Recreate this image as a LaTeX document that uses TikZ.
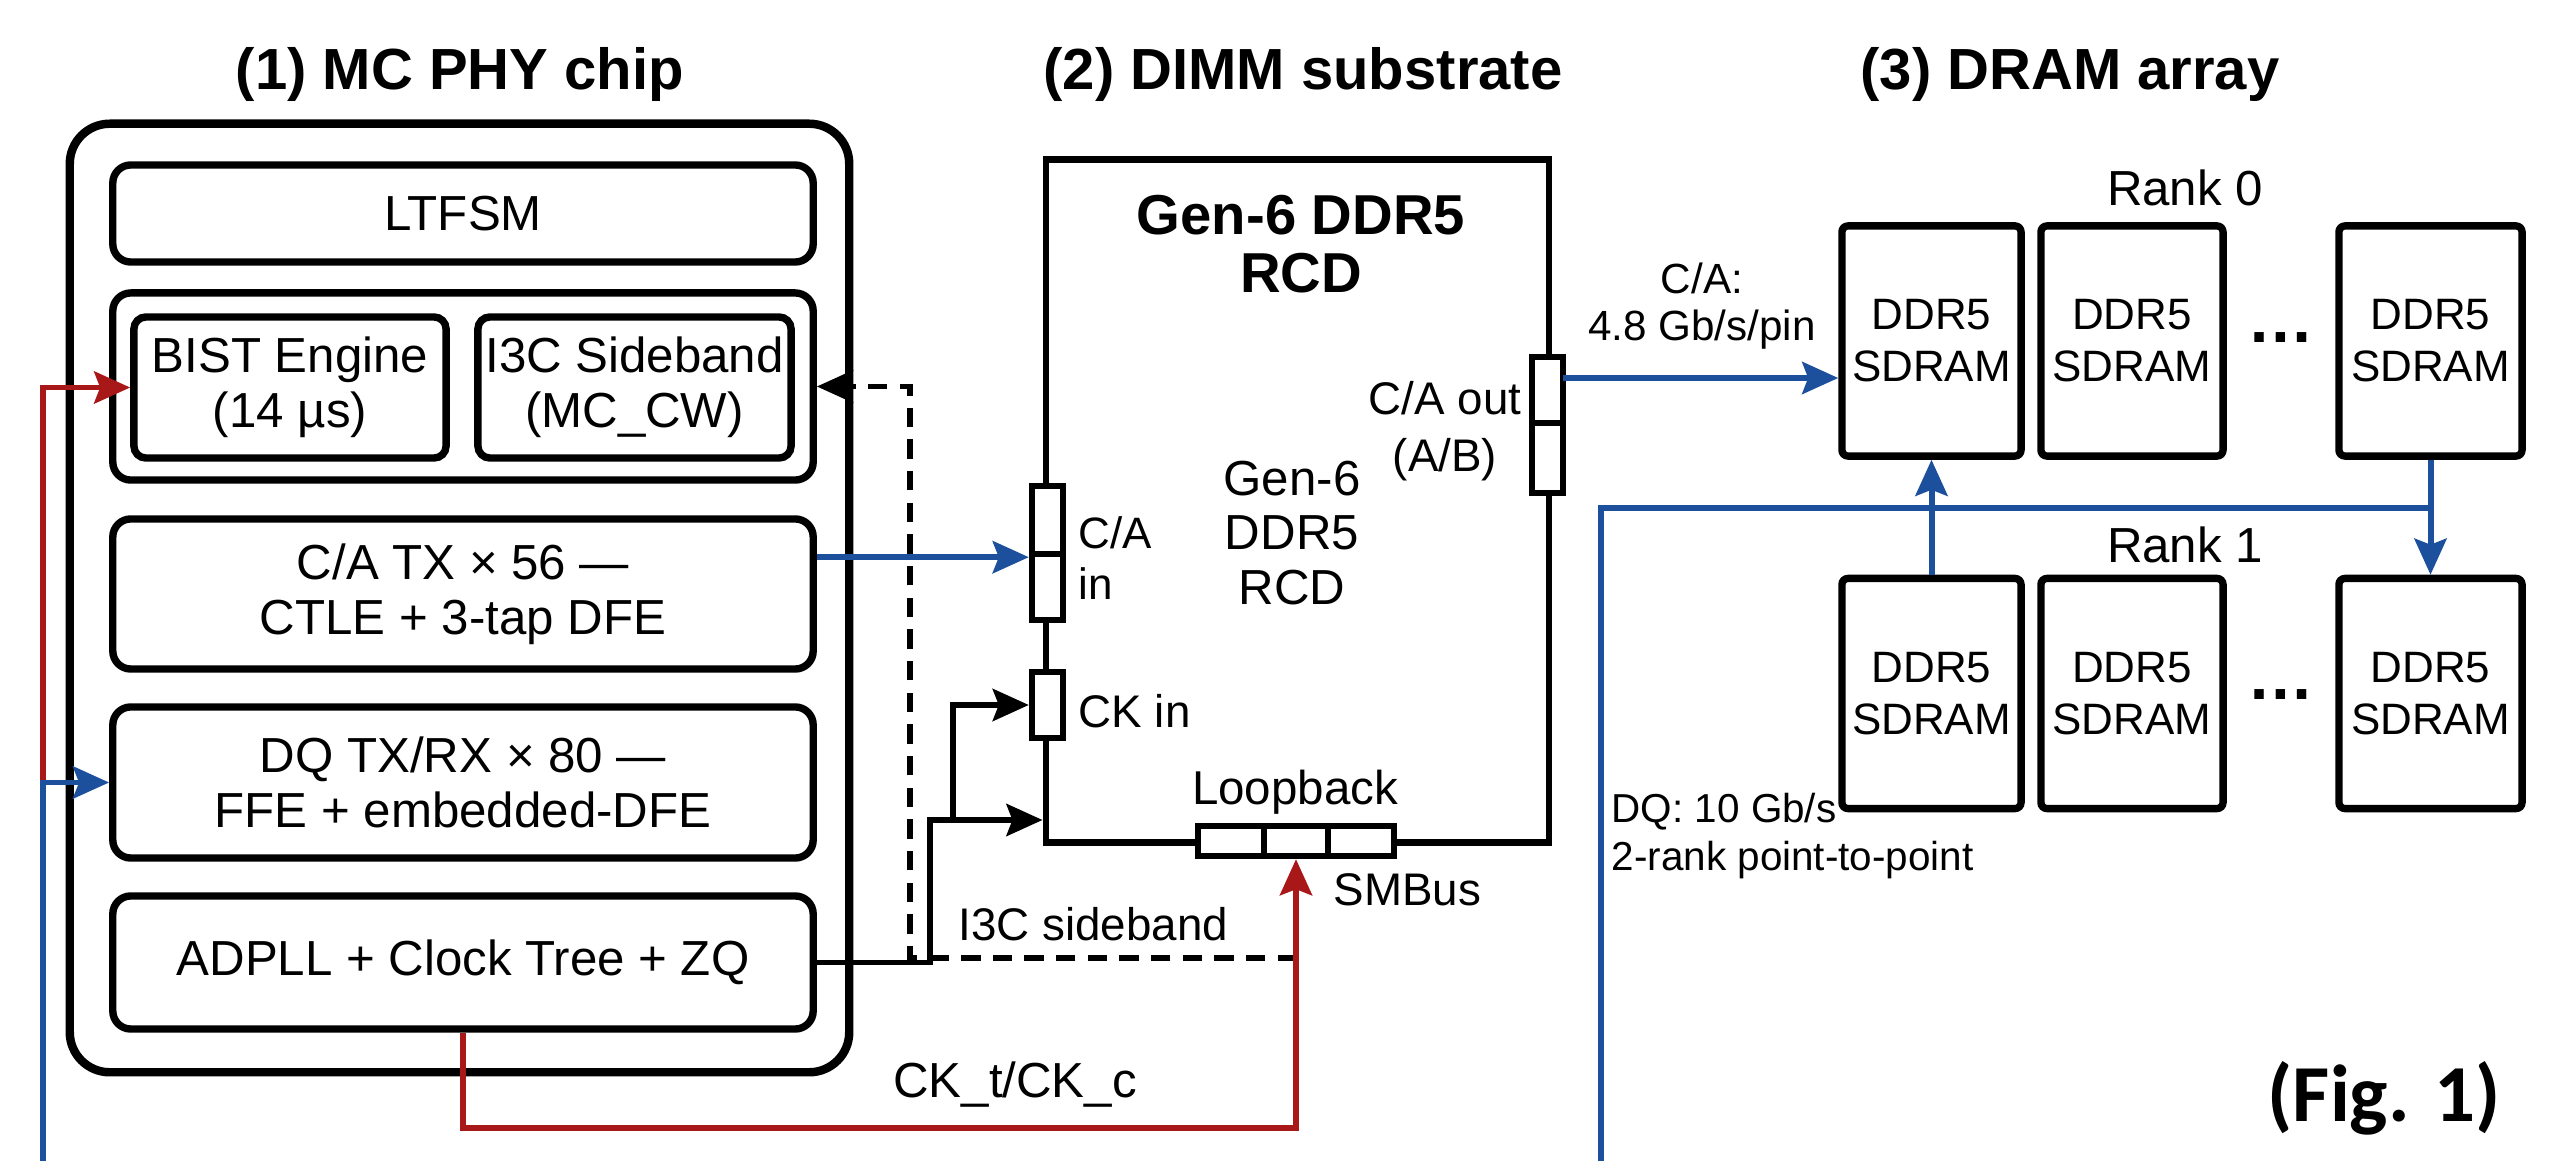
\documentclass[tikz,border=0pt]{standalone}
\usepackage{fontspec}
\setmainfont{Liberation Sans}
\newfontfamily\figfont{Carlito}
\usetikzlibrary{arrows.meta,calc}
\definecolor{lnblue}{HTML}{1C4F9C}
\definecolor{lnred}{HTML}{A81818}
\begin{document}
\begin{tikzpicture}[x=0.01cm,y=-0.01cm,
  bodyf/.style={font=\fontsize{14}{15.6}\selectfont},
  box/.style={draw, line width=2.1pt, rounded corners=0.18cm, inner sep=0pt, align=center, fill=white, bodyf},
  chip/.style={draw, line width=2.4pt, rounded corners=0.4cm, inner sep=0pt},
  rcdbox/.style={draw, line width=1.9pt, inner sep=0pt},
  port/.style={draw, line width=1.8pt, fill=white, inner sep=0pt},
  dram/.style={draw, line width=2.1pt, rounded corners=0.06cm, inner sep=0pt, align=center, minimum width=1.8cm, minimum height=2.3cm, font=\fontsize{12.5}{14.8}\selectfont},
  ttl/.style={font=\fontsize{16.5}{19}\selectfont\bfseries},
  lbl/.style={inner sep=0pt, align=center},
  tip/.style={-{Stealth[length=0.36cm,width=0.32cm,inset=0.06cm]}},
  redln/.style={draw=lnred, line width=1.7pt},
  blueln/.style={draw=lnblue, line width=1.7pt},
  blkln/.style={draw=black, line width=1.7pt},
  dashln/.style={draw=black, line width=1.7pt, dash pattern=on 5.5pt off 3.5pt},
]
\useasboundingbox (0,0) rectangle (2556,1161);

% titles
\node[ttl] (t1) at (460,75) {(1) MC PHY chip};
\node[ttl] (t2) at (1303,75) {(2) DIMM substrate};
\node[ttl] (t3) at (2070,75) {(3) DRAM array};

% MC PHY chip
\node[chip, minimum width=7.79cm, minimum height=9.48cm] (outer) at (459.5,598) {};
\node[box, minimum width=7cm, minimum height=0.97cm] (ltfsm) at (463,213.5) {LTFSM};
\node[box, minimum width=7cm, minimum height=1.87cm] (grp) at (463,386.5) {};
\node[box, rounded corners=0.12cm, minimum width=3.12cm, minimum height=1.41cm] (bist) at (290,387.5) {BIST Engine\\(14 µs)};
\node[box, rounded corners=0.12cm, minimum width=3.13cm, minimum height=1.41cm] (i3c) at (634.5,387.5) {I3C Sideband\\(MC\_CW)};
\node[box, minimum width=7cm, minimum height=1.5cm] (catx) at (463,594) {C/A TX × 56 —\\CTLE + 3-tap DFE};
\node[box, minimum width=7cm, minimum height=1.51cm] (dq) at (463,782.5) {DQ TX/RX × 80 —\\FFE + embedded-DFE};
\node[box, minimum width=7cm, minimum height=1.33cm] (adpll) at (463,962.5) {ADPLL + Clock Tree + ZQ};

% RCD
\node[rcdbox, minimum width=5.03cm, minimum height=6.82cm] (rcd) at (1297.5,501) {};
\node[lbl, font=\fontsize{16}{16.5}\selectfont\bfseries] (rcdt) at (1301,244) {Gen-6 DDR5\\RCD};
\node[lbl, bodyf] (rcdm) at (1292,533) {Gen-6\\DDR5\\RCD};
\node[port, minimum width=0.31cm, minimum height=0.68cm] (cain1) at (1047.5,520) {};
\node[port, minimum width=0.31cm, minimum height=0.66cm] (cain2) at (1047.5,587) {};
\node[port, minimum width=0.31cm, minimum height=0.66cm] (ckin) at (1047.5,705) {};
\node[port, minimum width=0.31cm, minimum height=0.66cm] (caout1) at (1547.5,390) {};
\node[port, minimum width=0.31cm, minimum height=0.70cm] (caout2) at (1547.5,458) {};
\node[port, minimum width=0.66cm, minimum height=0.30cm] (lb1) at (1231,841) {};
\node[port, minimum width=0.64cm, minimum height=0.30cm] (lb2) at (1296,841) {};
\node[port, minimum width=0.66cm, minimum height=0.30cm] (lb3) at (1361,841) {};
\node[lbl, align=left, anchor=west, font=\fontsize{12.5}{14.5}\selectfont] (cainl) at (1078,558) {C/A\\in};
\node[lbl, anchor=west, font=\fontsize{13}{15}\selectfont] (ckinl) at (1078,711) {CK in};
\node[lbl, font=\fontsize{13}{16.2}\selectfont] (caoutl) at (1445,431) {C/A out\\(A/B)};
\node[lbl, font=\fontsize{13.5}{15}\selectfont] (lbl) at (1295,792) {Loopback};
\node[lbl, anchor=west, font=\fontsize{13}{15}\selectfont] (smb) at (1333,890) {SMBus};
\node[lbl, anchor=west, font=\fontsize{13}{15}\selectfont] (i3cl) at (958,924) {I3C sideband};
\node[lbl, bodyf] (ckl) at (1015,1085) {CK\_t/CK\_c};
\node[lbl, font=\fontsize{12}{13.4}\selectfont] (cal) at (1702,306) {C/A:\\4.8 Gb/s/pin};
\node[lbl, align=left, anchor=west, font=\fontsize{11.5}{13.7}\selectfont] (dql) at (1611,836) {DQ: 10 Gb/s\\2-rank point-to-point};

% DRAM array
\node[lbl, bodyf] (rk0) at (2185,188) {Rank 0};
\node[lbl, bodyf] (rk1) at (2185,545) {Rank 1};
\node[dram, minimum width=1.79cm] (r0a) at (1931.5,341) {DDR5\\SDRAM};
\node[dram, minimum width=1.82cm] (r0b) at (2132,341) {DDR5\\SDRAM};
\node[dram, minimum width=1.83cm] (r0c) at (2430.5,341) {DDR5\\SDRAM};
\node[dram, minimum width=1.79cm] (r1a) at (1931.5,693.5) {DDR5\\SDRAM};
\node[dram, minimum width=1.82cm] (r1b) at (2132,693.5) {DDR5\\SDRAM};
\node[dram, minimum width=1.83cm] (r1c) at (2430.5,693.5) {DDR5\\SDRAM};
\node[lbl, font=\fontsize{19}{19}\selectfont\bfseries] (dots0) at (2281,338) {…};
\node[lbl, font=\fontsize{19}{19}\selectfont\bfseries] (dots1) at (2281,695) {…};

\node[lbl, font=\figfont\fontsize{23}{26}\selectfont\bfseries] (fig) at (2384,1098) {(Fig. 1)};

% coordinates
\coordinate (rj) at (43,782.5);
\coordinate (lbot) at (43,1161);
\coordinate (d1) at (1297,958);
\coordinate (d2) at (910,958);
\coordinate (kA) at (930,962.5);
\coordinate (kB) at (930,820);
\coordinate (kC) at (953,820);
\coordinate (rb) at (463,1128);
\coordinate (cao) at (1563,378);
\coordinate (dqb) at (1601,1161);
\coordinate (dqt) at (1601,508);

% connectors
\draw[redln, tip] (rj) -- (rj |- bist.west) -- (bist.west);
\draw[blueln, tip] (lbot) -- (rj) -- (dq.west);
\draw[dashln, tip] (d1) -- (d2) -- (d2 |- grp.east) -- (grp.east);
\draw[blkln, tip] (adpll.east) -- (kA) -- (kB) -- (kB -| rcd.west);
\draw[blkln, tip] (kC) -- (kC |- ckin.west) -- (ckin.west);
\draw[blueln, tip] (catx.east |- cain1.south) -- (cain1.south west);
\draw[redln, tip] (adpll.south) -- (rb) -- (rb -| lb2.south) -- (lb2.south);
\draw[blueln, tip] (cao) -- (cao -| r0a.west);
\draw[blueln] (dqb) -- (dqt) -- (dqt -| r0c.south);
\draw[blueln, tip] (r0c.south) -- (r1c.north);
\draw[blueln, tip] (r1a.north) -- (r0a.south);
\end{tikzpicture}
\end{document}
